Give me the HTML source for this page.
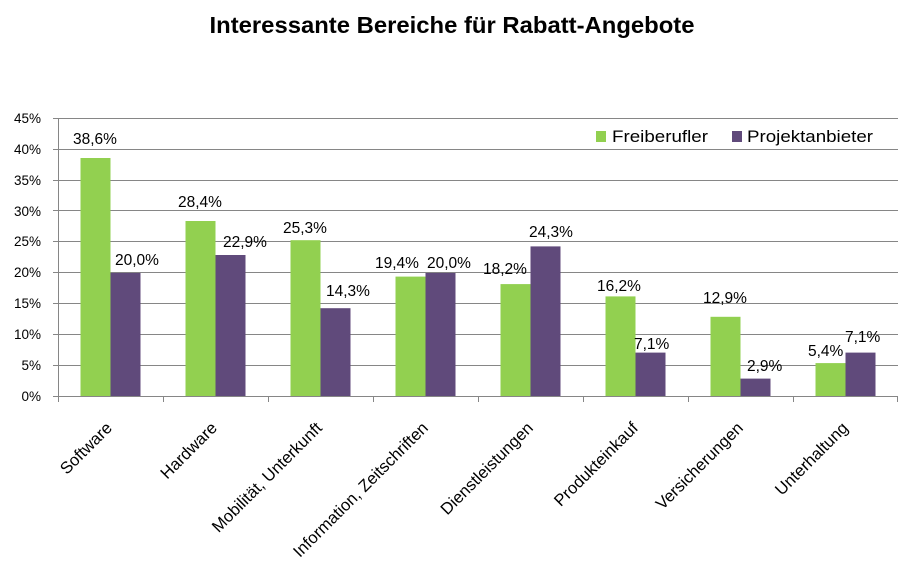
<!DOCTYPE html>
<html><head><meta charset="utf-8"><style>
html,body{margin:0;padding:0;background:#fff;}
svg{display:block;}
text{font-family:"Liberation Sans",sans-serif;fill:#000;}
</style></head><body>
<svg width="909" height="574" viewBox="0 0 909 574" xmlns="http://www.w3.org/2000/svg">
<rect width="909" height="574" fill="#fff"/>
<text x="452" y="33" text-anchor="middle" font-size="23" font-weight="bold" textLength="485" lengthAdjust="spacingAndGlyphs">Interessante Bereiche für Rabatt-Angebote</text>
<g stroke="#868686" stroke-width="1">
<line x1="53" y1="118.5" x2="898" y2="118.5"/>
<line x1="53" y1="149.5" x2="898" y2="149.5"/>
<line x1="53" y1="180.5" x2="898" y2="180.5"/>
<line x1="53" y1="210.5" x2="898" y2="210.5"/>
<line x1="53" y1="241.5" x2="898" y2="241.5"/>
<line x1="53" y1="272.5" x2="898" y2="272.5"/>
<line x1="53" y1="303.5" x2="898" y2="303.5"/>
<line x1="53" y1="334.5" x2="898" y2="334.5"/>
<line x1="53" y1="365.5" x2="898" y2="365.5"/>
</g>
<g font-size="13.5" text-anchor="end">
<text x="41" y="123">45%</text>
<text x="41" y="154">40%</text>
<text x="41" y="185">35%</text>
<text x="41" y="216">30%</text>
<text x="41" y="246">25%</text>
<text x="41" y="277">20%</text>
<text x="41" y="308">15%</text>
<text x="41" y="339">10%</text>
<text x="41" y="370">5%</text>
<text x="41" y="401">0%</text>
</g>
<g fill="#92D050">
<rect x="80.5" y="158" width="30" height="238.5"/>
<rect x="185.5" y="221" width="30" height="175.5"/>
<rect x="290.5" y="240.2" width="30" height="156.3"/>
<rect x="395.5" y="276.6" width="30" height="119.9"/>
<rect x="500.5" y="284.1" width="30" height="112.4"/>
<rect x="605.5" y="296.4" width="30" height="100.1"/>
<rect x="710.5" y="316.8" width="30" height="79.7"/>
<rect x="815.5" y="363.1" width="30" height="33.4"/>
</g>
<g fill="#604A7B">
<rect x="110.5" y="272.9" width="30" height="123.6"/>
<rect x="215.5" y="255" width="30" height="141.5"/>
<rect x="320.5" y="308.2" width="30" height="88.3"/>
<rect x="425.5" y="272.9" width="30" height="123.6"/>
<rect x="530.5" y="246.4" width="30" height="150.1"/>
<rect x="635.5" y="352.6" width="30" height="43.9"/>
<rect x="740.5" y="378.6" width="30" height="17.9"/>
<rect x="845.5" y="352.6" width="30" height="43.9"/>
</g>
<g stroke="#868686" stroke-width="1">
<line x1="58.5" y1="118" x2="58.5" y2="397"/>
<line x1="53" y1="396.5" x2="898" y2="396.5"/>
<line x1="58.5" y1="396" x2="58.5" y2="402"/>
<line x1="163.5" y1="396" x2="163.5" y2="402"/>
<line x1="268.5" y1="396" x2="268.5" y2="402"/>
<line x1="373.5" y1="396" x2="373.5" y2="402"/>
<line x1="478.5" y1="396" x2="478.5" y2="402"/>
<line x1="583.5" y1="396" x2="583.5" y2="402"/>
<line x1="688.5" y1="396" x2="688.5" y2="402"/>
<line x1="793.5" y1="396" x2="793.5" y2="402"/>
<line x1="897.5" y1="396" x2="897.5" y2="402"/>
</g>
<g font-size="15.5">
<text x="73" y="144">38,6%</text>
<text x="115" y="265">20,0%</text>
<text x="178" y="207">28,4%</text>
<text x="223" y="247">22,9%</text>
<text x="283" y="233">25,3%</text>
<text x="326" y="296">14,3%</text>
<text x="375" y="268">19,4%</text>
<text x="427" y="268">20,0%</text>
<text x="483" y="274">18,2%</text>
<text x="529" y="237">24,3%</text>
<text x="597" y="291">16,2%</text>
<text x="634" y="349">7,1%</text>
<text x="703" y="303">12,9%</text>
<text x="747" y="371">2,9%</text>
<text x="808" y="356">5,4%</text>
<text x="845" y="342">7,1%</text>
</g>
<rect x="596" y="131" width="10" height="11" fill="#92D050"/>
<text x="612" y="142" font-size="17" textLength="96" lengthAdjust="spacingAndGlyphs">Freiberufler</text>
<rect x="732" y="131" width="10" height="11" fill="#604A7B"/>
<text x="747" y="142" font-size="17" textLength="126" lengthAdjust="spacingAndGlyphs">Projektanbieter</text>
<g font-size="16.6" text-anchor="end">
<text transform="translate(113,429) rotate(-45)">Software</text>
<text transform="translate(218,429) rotate(-45)">Hardware</text>
<text transform="translate(323,429) rotate(-45)">Mobilität, Unterkunft</text>
<text transform="translate(429,429) rotate(-45)">Information, Zeitschriften</text>
<text transform="translate(534,429) rotate(-45)">Dienstleistungen</text>
<text transform="translate(639,429) rotate(-45)">Produkteinkauf</text>
<text transform="translate(744,429) rotate(-45)">Versicherungen</text>
<text transform="translate(849,429) rotate(-45)">Unterhaltung</text>
</g>
</svg>
</body></html>
